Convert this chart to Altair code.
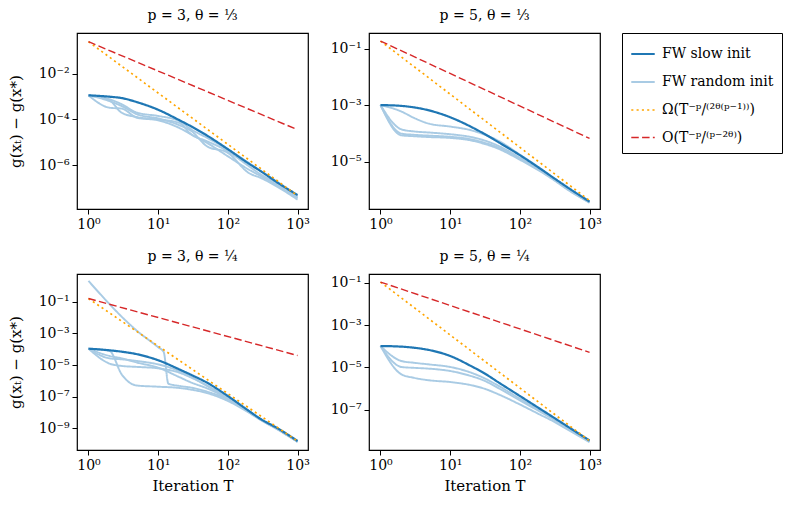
import altair as alt
import pandas as pd

FONT = "DejaVu Serif"

# ---------------- data (log10 of g(x_T) - g(x*)) ----------------
T_GRID = [1, 2, 3, 5, 10, 20, 30, 50, 100, 200, 300, 500, 1000]
T_ENDS = [1, 1000]

SLOW = "FW slow init"
RAND = "FW random init"
OMEGA = "Ω(T⁻ᵖ/⁽²ᶿ⁽ᵖ⁻¹⁾⁾)"
BIGO = "O(T⁻ᵖ/⁽ᵖ⁻²ᶿ⁾)"
SERIES = [SLOW, RAND, OMEGA, BIGO]

# panel 1: p=3, theta=1/3
p1_slow = [-2.95, -3.01, -3.07, -3.25, -3.58, -4.03, -4.31, -4.70, -5.30, -5.93, -6.27, -6.73, -7.30]
p1_rand = [
    [-2.95, -3.49, -3.53, -3.93, -4.04, -4.37, -4.66, -5.02, -5.61, -6.19, -6.48, -6.85, -7.43],
    [-2.95, -3.17, -3.71, -3.90, -4.00, -4.15, -4.66, -4.95, -5.39, -6.04, -6.41, -6.77, -7.36],
    [-2.95, -3.20, -3.42, -3.78, -3.96, -4.25, -4.51, -5.17, -5.46, -6.34, -6.56, -6.92, -7.50],
    [-2.95, -3.12, -3.34, -3.71, -3.85, -4.07, -4.44, -4.80, -5.31, -5.90, -6.26, -6.70, -7.36],
]
p1_omega = [-0.61, -7.33]
p1_bigo = [-0.61, -4.45]

# panel 2: p=5, theta=1/3
p2_slow = [-2.99, -3.02, -3.07, -3.18, -3.42, -3.76, -3.99, -4.31, -4.76, -5.25, -5.55, -5.92, -6.40]
p2_rand = [
    [-2.99, -3.22, -3.44, -3.65, -3.75, -3.88, -4.02, -4.26, -4.74, -5.24, -5.56, -5.94, -6.41],
    [-2.99, -3.85, -3.92, -3.96, -4.02, -4.12, -4.23, -4.44, -4.85, -5.30, -5.59, -5.97, -6.42],
    [-2.99, -4.00, -4.04, -4.07, -4.11, -4.20, -4.31, -4.50, -4.89, -5.32, -5.60, -5.98, -6.43],
    [-2.99, -4.06, -4.09, -4.12, -4.15, -4.24, -4.35, -4.54, -4.92, -5.34, -5.62, -6.00, -6.44],
]
p2_omega = [-0.73, -6.36]
p2_bigo = [-0.73, -4.17]

# panel 3: p=3, theta=1/4
p3_slow = [-3.97, -4.07, -4.16, -4.32, -4.70, -5.27, -5.63, -6.11, -6.96, -7.90, -8.43, -8.96, -9.80]
p3_rand_a_T = [1, 2, 3, 5, 10, 12, 14, 20, 30, 50, 100, 200, 300, 500, 1000]
p3_rand_a = [0.31, -1.15, -1.95, -2.85, -3.88, -4.18, -6.18, -6.32, -6.43, -6.68, -7.17, -7.97, -8.47, -9.02, -9.84]
p3_rand = [
    [-3.97, -4.11, -5.60, -6.30, -6.37, -6.45, -6.56, -6.77, -7.27, -8.01, -8.49, -9.04, -9.86],
    [-3.97, -4.58, -4.64, -4.75, -4.96, -5.38, -5.76, -6.32, -7.10, -7.95, -8.45, -9.00, -9.84],
    [-3.97, -4.91, -5.06, -5.12, -5.21, -5.48, -5.80, -6.28, -7.06, -7.90, -8.43, -8.98, -9.82],
    [-3.97, -4.43, -4.58, -4.85, -5.17, -5.76, -6.11, -6.47, -7.12, -7.92, -8.45, -9.00, -9.84],
]
p3_omega = [-0.80, -9.81]
p3_bigo = [-0.80, -4.40]

# panel 4: p=5, theta=1/4
p4_slow = [-3.99, -4.02, -4.07, -4.18, -4.46, -4.94, -5.25, -5.72, -6.35, -6.98, -7.35, -7.82, -8.45]
p4_rand = [
    [-3.99, -4.70, -4.78, -4.86, -4.98, -5.25, -5.49, -5.88, -6.48, -7.06, -7.41, -7.87, -8.48],
    [-3.99, -4.98, -5.02, -5.06, -5.17, -5.41, -5.61, -5.99, -6.56, -7.11, -7.44, -7.88, -8.50],
    [-3.99, -5.33, -5.49, -5.61, -5.69, -5.84, -5.99, -6.28, -6.75, -7.25, -7.54, -7.96, -8.53],
]
p4_omega = [-0.97, -8.47]
p4_bigo = [-0.97, -4.29]

TITLES = ["p = 3,  θ = ⅓", "p = 5,  θ = ⅓", "p = 3,  θ = ¼", "p = 5,  θ = ¼"]
Y_TICK_EXPS = [[-2, -4, -6], [-1, -3, -5], [-1, -3, -5, -7, -9], [-1, -3, -5, -7]]
Y_DOMAINS_LOG = [(-7.91, -0.23), (-6.66, -0.446), (-10.37, 0.75), (-8.90, -0.59)]
X_DOMAIN_LOG = (-0.165, 3.15)

# ---------------- helpers ----------------
SUP = {"-": "⁻", "0": "⁰", "1": "¹", "2": "²", "3": "³", "4": "⁴",
       "5": "⁵", "6": "⁶", "7": "⁷", "8": "⁸", "9": "⁹"}


def sup(n):
    return "".join(SUP[c] for c in str(n))


def label_expr(exps):
    expr = "''"
    for e in exps:
        expr = f"round(log(datum.value)/LN10) == {e} ? '10{sup(e)}' : ({expr})"
    return expr


def build_df(slow, rands, omega, bigo, extra=None):
    rows = []
    rand_sets = [(T_GRID, r) for r in rands]
    if extra is not None:
        rand_sets = [extra] + rand_sets
    for i, (ts, vals) in enumerate(rand_sets):
        for t, v in zip(ts, vals):
            rows.append({"T": t, "g": 10.0 ** v, "series": RAND, "run": f"r{i}"})
    for t, v in zip(T_GRID, slow):
        rows.append({"T": t, "g": 10.0 ** v, "series": SLOW, "run": "slow"})
    for t, v in zip(T_ENDS, omega):
        rows.append({"T": t, "g": 10.0 ** v, "series": OMEGA, "run": "omega"})
    for t, v in zip(T_ENDS, bigo):
        rows.append({"T": t, "g": 10.0 ** v, "series": BIGO, "run": "bigo"})
    return pd.DataFrame(rows)


dfs = [
    build_df(p1_slow, p1_rand, p1_omega, p1_bigo),
    build_df(p2_slow, p2_rand, p2_omega, p2_bigo),
    build_df(p3_slow, p3_rand, p3_omega, p3_bigo, extra=(p3_rand_a_T, p3_rand_a)),
    build_df(p4_slow, p4_rand, p4_omega, p4_bigo),
]

color_scale = alt.Scale(domain=SERIES, range=["#1f77b4", "#a9cbe4", "#ffa500", "#d62728"])
dash_scale = alt.Scale(domain=SERIES, range=[[1, 0], [1, 0], [2.1, 3.2], [7.5, 3.3]])
width_scale = alt.Scale(domain=SERIES, range=[2.2, 1.4, 2.1, 2.1])

XLABEL = ("datum.value == 1 ? '10⁰' : datum.value == 10 ? '10¹' : "
          "datum.value == 100 ? '10²' : '10³'")
YTITLE = "g(xₜ) − g(x*)"


def make_panel(i, left, bottom):
    df = dfs[i]
    ylo, yhi = Y_DOMAINS_LOG[i]
    xaxis = alt.Axis(values=[1, 10, 100, 1000], labelExpr=XLABEL,
                     title="Iteration T" if bottom else None, titlePadding=6)
    yaxis = alt.Axis(values=[10.0 ** e for e in Y_TICK_EXPS[i]],
                     labelExpr=label_expr(Y_TICK_EXPS[i]),
                     title=YTITLE if left else None, titlePadding=15)
    enc = dict(
        x=alt.X("T:Q", scale=alt.Scale(type="log", domain=[10 ** X_DOMAIN_LOG[0], 10 ** X_DOMAIN_LOG[1]], nice=False),
                axis=xaxis),
        y=alt.Y("g:Q", scale=alt.Scale(type="log", domain=[10 ** ylo, 10 ** yhi], nice=False),
                axis=yaxis),
        color=alt.Color("series:N", scale=color_scale, title=None),
        strokeDash=alt.StrokeDash("series:N", scale=dash_scale, title=None),
        strokeWidth=alt.StrokeWidth("series:N", scale=width_scale, title=None),
        detail="run:N",
    )
    layers = []
    for s in [RAND, SLOW, OMEGA, BIGO]:
        sub = df[df["series"] == s]
        if s in (RAND, SLOW):
            mark = alt.Chart(sub).mark_line(clip=True, interpolate="monotone")
        else:
            mark = alt.Chart(sub).mark_line(clip=True)
        layers.append(mark.encode(**enc))
    return alt.layer(*layers).properties(
        width=231, height=176,
        title=alt.TitleParams(TITLES[i], font=FONT, fontSize=14, fontWeight="normal", offset=10),
    )


chart = alt.concat(
    make_panel(0, True, False), make_panel(1, False, False),
    make_panel(2, True, True), make_panel(3, False, True),
    columns=2, spacing=alt.RowColnumber(row=65, column=61), bounds="flush",
).properties(
    padding={"left": 7, "top": 8, "right": 5, "bottom": 5}
).configure_view(
    stroke="black", strokeWidth=1.2
).configure_axis(
    domain=False, grid=False, ticks=True, tickColor="black", tickSize=5, tickWidth=1,
    labelFont=FONT, labelFontSize=14, labelColor="black", labelPadding=3,
    titleFont=FONT, titleFontSize=15, titleFontWeight="normal", titleColor="black",
).configure_legend(
    orient="none", legendX=545, legendY=0, strokeColor="black", padding=8,
    fillColor="white", labelFont=FONT, labelFontSize=14, labelColor="black",
    symbolType="stroke", symbolSize=550, rowPadding=8, labelLimit=300, cornerRadius=0,
    labelOffset=6,
)

chart.save("out.html", embed_options={"renderer": "svg", "actions": False})
